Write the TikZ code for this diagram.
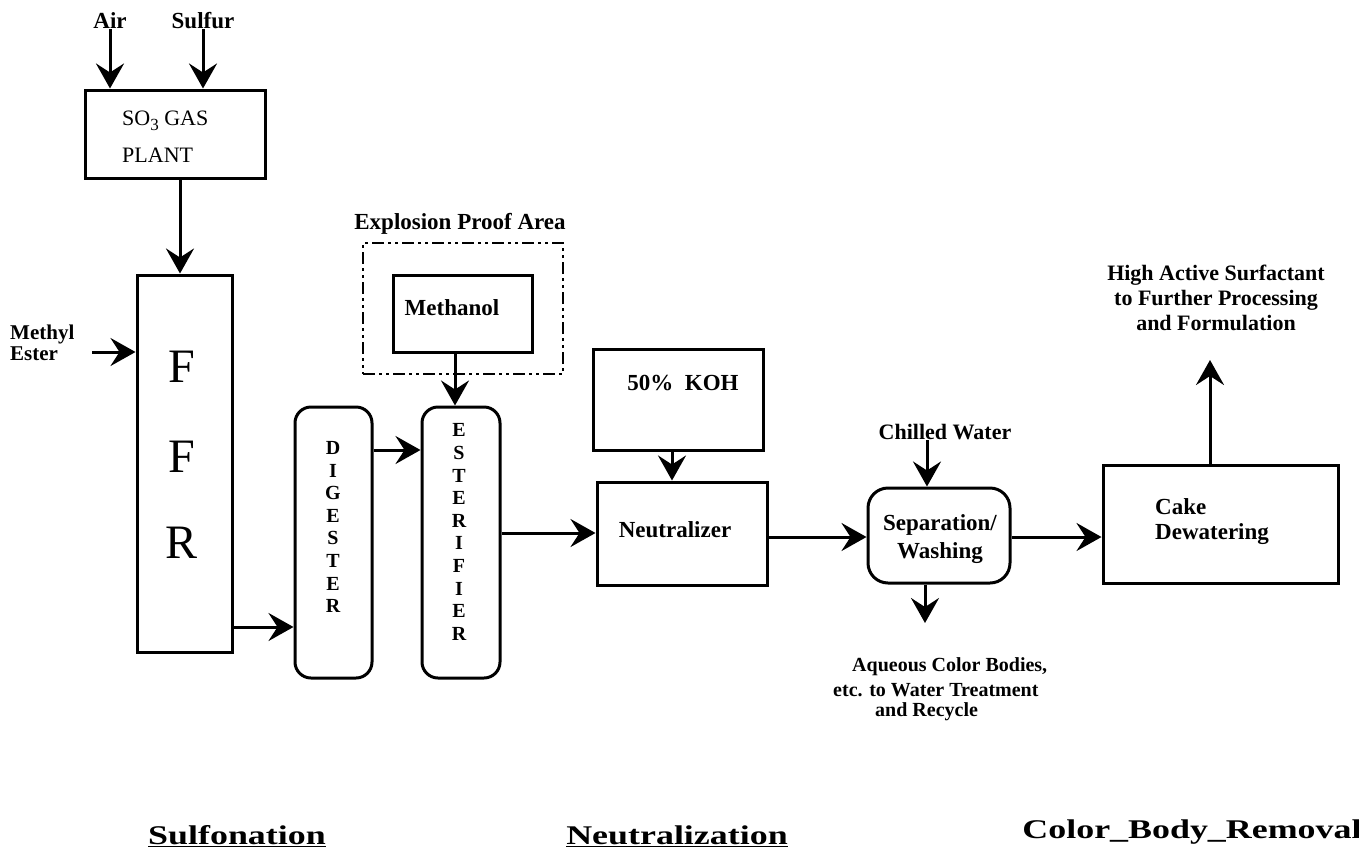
\documentclass[tikz,border=0pt]{standalone}
\usepackage{fontspec}
\setmainfont{Liberation Serif}
\newfontfamily\widebf{Liberation Serif}[FakeStretch=1.33, UprightFont={* Bold}]
\usetikzlibrary{arrows.meta,calc}
\tikzset{
  box/.style={draw, line width=3pt, inner sep=0pt},
  rbox/.style={box, rounded corners=16pt},
  epabox/.style={draw, line width=2.5pt, inner sep=0pt, dash pattern=on 12pt off 4pt on 3pt off 4pt on 3pt off 4pt},
  arr/.style={line width=3pt, -{Stealth[length=25pt,width=28pt,inset=9pt]}},
  lbl/.style={inner sep=0pt, font=\bfseries\fontsize{22}{25}\selectfont},
  big/.style={inner sep=0pt, font=\fontsize{48}{48}\selectfont},
  vert/.style={inner sep=0pt, align=center, font=\bfseries\fontsize{20}{22.6}\selectfont},
  stage/.style={inner sep=0pt, font=\widebf\fontsize{27}{30}\selectfont},
}
\begin{document}
\begin{tikzpicture}[x=1pt,y=-1pt]
\useasboundingbox[fill=white] (0,0) rectangle (1359,854);

% boxes
\node[box, minimum width=180pt, minimum height=88pt] (so3) at (175,134) {};
\node[box, minimum width=95pt, minimum height=377pt] (ffr) at (184.5,463.5) {};
\node[rbox, minimum width=77pt, minimum height=271pt] (dig) at (333.5,542.5) {};
\node[rbox, minimum width=78pt, minimum height=271pt] (est) at (461,542.5) {};
\node[epabox, minimum width=200pt, minimum height=131pt] (epa) at (463,308.5) {};
\node[box, minimum width=139pt, minimum height=77pt] (meth) at (462.5,313.5) {};
\node[box, minimum width=170pt, minimum height=101pt] (koh) at (678,399.5) {};
\node[box, minimum width=170pt, minimum height=103pt] (neut) at (682,533.5) {};
\node[box, rounded corners=20pt, minimum width=142pt, minimum height=95pt] (sep) at (939,535.5) {};
\node[box, minimum width=235pt, minimum height=118pt] (cake) at (1220.5,524) {};

% texts
\node[lbl, font=\bfseries\fontsize{23}{25}\selectfont] (air) at (110,21) {Air};
\node[lbl, font=\bfseries\fontsize{23}{25}\selectfont] (sulfur) at (203,21) {Sulfur};
\node[inner sep=0pt, anchor=west, font=\fontsize{22}{25}\selectfont] (so3a) at (122,121) {SO\raisebox{-5pt}{\fontsize{17}{17}\selectfont 3} GAS};
\node[inner sep=0pt, anchor=west, font=\fontsize{22}{25}\selectfont] (so3b) at (122,155) {PLANT};
\node[big] (f1) at (182,367) {F};
\node[big] (f2) at (182,457) {F};
\node[big] (f3) at (182,543) {R};
\node[lbl, anchor=west, align=left, font=\bfseries\fontsize{21}{21}\selectfont] (me) at (10,343) {Methyl\\Ester};
\node[vert] (digt) at (333,527) {D\\I\\G\\E\\S\\T\\E\\R};
\node[vert] (estt) at (459,532) {E\\S\\T\\E\\R\\I\\F\\I\\E\\R};
\node[lbl, font=\bfseries\fontsize{23}{25}\selectfont] (epat) at (460,224) {Explosion Proof Area};
\node[lbl, font=\bfseries\fontsize{23}{25}\selectfont] (metht) at (452,308) {Methanol};
\node[lbl, font=\bfseries\fontsize{23}{25}\selectfont] (koht) at (683,383) {50\%\ \ KOH};
\node[lbl, font=\bfseries\fontsize{23}{25}\selectfont] (neutt) at (675,530) {Neutralizer};
\node[lbl] (chill) at (945,432) {Chilled Water};
\node[lbl, align=center, font=\bfseries\fontsize{23}{28}\selectfont] (sept) at (940,539) {Separation/\\Washing};
\node[lbl, anchor=west, font=\bfseries\fontsize{20}{22}\selectfont] (aq1) at (852,667) {Aqueous Color Bodies,};
\node[lbl, anchor=west, font=\bfseries\fontsize{20}{22}\selectfont] (aq2) at (833,690) {etc. to Water Treatment};
\node[lbl, anchor=west, font=\bfseries\fontsize{20}{22}\selectfont] (aq3) at (875,712) {and Recycle};
\node[lbl, anchor=west, align=left, font=\bfseries\fontsize{23}{25}\selectfont] (caket) at (1155,522) {Cake\\Dewatering};
\node[lbl, align=center] (hi) at (1216,298) {High Active Surfactant\\to Further Processing\\and Formulation};
\node[stage] (s1) at (237,836) {\underline{Sulfonation}};
\node[stage] (s2) at (677,836) {\underline{Neutralization}};
\node[stage] (s3) at (1192,832) {Color\_Body\_Removal};

% helper coordinates
\coordinate (yFo) at (0,627);
\coordinate (yDe) at (0,450);
\coordinate (yEn) at (0,533);
\coordinate (ySc) at (0,537);
\coordinate (xSo) at (180,0);
\coordinate (xMe) at (455,0);
\coordinate (xKoh) at (672,0);
\coordinate (xCw) at (927,0);
\coordinate (xAq) at (925,0);
\coordinate (xHi) at (1210,0);
\coordinate (meA) at (92,352);
\coordinate (aqEnd) at (925,623);
\coordinate (hiEnd) at (1210,360);

% connectors
\draw[arr] (air.south) -- (air.south |- so3.north);
\draw[arr] (sulfur.south) -- (sulfur.south |- so3.north);
\draw[arr] (so3.south -| xSo) -- (ffr.north -| xSo);
\draw[arr] (meA) -- (meA -| ffr.west);
\draw[arr] (ffr.east |- yFo) -- (dig.west |- yFo);
\draw[arr] (dig.east |- yDe) -- (est.west |- yDe);
\draw[arr] (meth.south -| xMe) -- (est.north -| xMe);
\draw[arr] (est.east |- yEn) -- (neut.west |- yEn);
\draw[arr] (koh.south -| xKoh) -- (neut.north -| xKoh);
\draw[arr] (neut.east |- ySc) -- (sep.west |- ySc);
\draw[arr] (chill.south -| xCw) -- (sep.north -| xCw);
\draw[arr] (sep.south -| xAq) -- (aqEnd);
\draw[arr] (sep.east |- ySc) -- (cake.west |- ySc);
\draw[arr] (cake.north -| xHi) -- (hiEnd);
\end{tikzpicture}
\end{document}
